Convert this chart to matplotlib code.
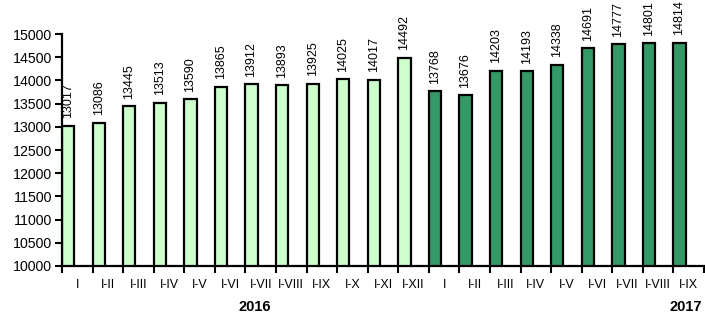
import numpy as np
import matplotlib
matplotlib.use("Agg")
import matplotlib.pyplot as plt
import matplotlib.transforms as mtransforms

plt.rcParams['font.family'] = ['Liberation Sans', 'DejaVu Sans']

# data
months = ["I", "I-II", "I-III", "I-IV", "I-V", "I-VI", "I-VII", "I-VIII", "I-IX",
          "I-X", "I-XI", "I-XII"]
vals_2016 = [13017, 13086, 13445, 13513, 13590, 13865, 13912, 13893, 13925,
             14025, 14017, 14492]
vals_2017 = [13768, 13676, 14203, 14193, 14338, 14691, 14777, 14801, 14814]
labels = months + months[:len(vals_2017)]

fig = plt.figure(figsize=(7.05, 3.13), dpi=100)
ax = fig.add_axes([62 / 705, 1 - 266 / 313, 642 / 705, 232 / 313])

n16 = len(vals_2016)
x16 = np.arange(n16)
x17 = np.arange(n16, n16 + len(vals_2017))
w = 0.4

ax.bar(x16, vals_2016, width=w, align='edge', color='#CCFFCC',
       edgecolor='black', linewidth=1.6, zorder=2)
ax.bar(x17, vals_2017, width=w, align='edge', color='#339966',
       edgecolor='black', linewidth=1.6, zorder=2)

# rotated value labels
for xs, vs in ((x16, vals_2016), (x17, vals_2017)):
    for xi, v in zip(xs, vs):
        ax.annotate(str(v), (xi + w / 2, v), xytext=(0, 5.5),
                    textcoords='offset points', rotation=90,
                    ha='center', va='bottom', fontsize=9, zorder=1,
                    annotation_clip=False)

n = len(labels)
ax.set_xlim(0, n)
ax.set_ylim(10000, 15000)
ax.set_yticks(np.arange(10000, 15001, 500))

ax.set_xticks(np.arange(0, n + 1))
ax.set_xticklabels([])
ax.set_xticks(np.arange(n) + 0.5, minor=True)
ax.set_xticklabels(labels, minor=True, fontsize=9)
ax.tick_params(axis='x', which='minor', length=0, pad=9)
ax.tick_params(axis='x', which='major', length=5, width=1.5, direction='out')
ax.tick_params(axis='y', length=5, width=1.5, direction='out', labelsize=10.2, pad=2)

for side in ('top', 'right'):
    ax.spines[side].set_visible(False)
for side in ('left', 'bottom'):
    ax.spines[side].set_linewidth(1.6)
    ax.spines[side].set_zorder(3)

trans = mtransforms.blended_transform_factory(ax.transData, fig.transFigure)
ax.text(6.3, 1 - 307 / 313, "2016", transform=trans, ha='center', va='center',
        fontsize=10.5, fontweight='bold')
ax.text(20.4, 1 - 307 / 313, "2017", transform=trans, ha='center', va='center',
        fontsize=10.5, fontweight='bold')

fig.savefig("out.png", dpi=100)
